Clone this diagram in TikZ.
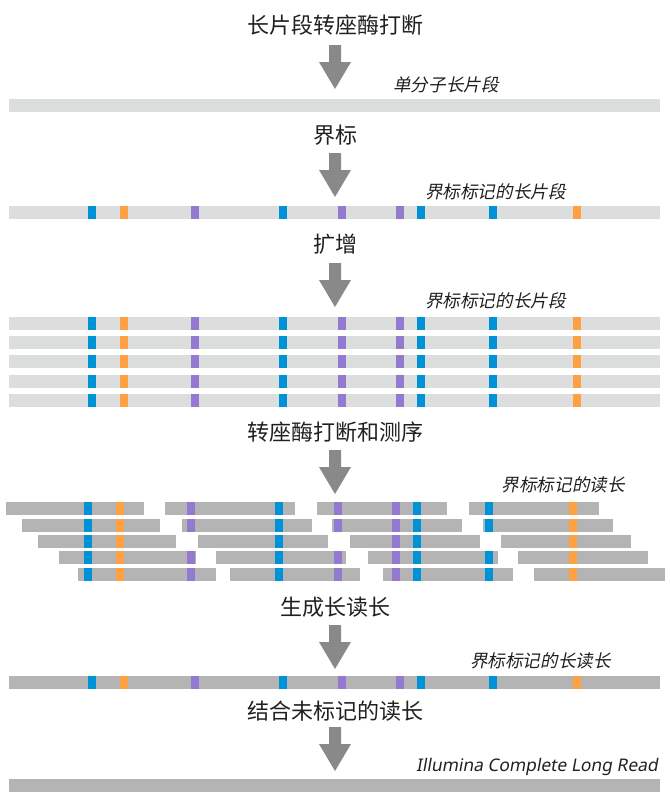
\documentclass[tikz,border=0pt]{standalone}
\usepackage{fontspec}
\newfontfamily\cjk{Noto Sans CJK SC}
\newfontfamily\cjkit{Noto Sans CJK SC}[FakeSlant=0.2]
\newfontfamily\latit{Noto Sans}[FakeSlant=0.18]
\definecolor{txt}{HTML}{231F20}
\definecolor{arrowgray}{HTML}{898989}
\definecolor{lightbar}{HTML}{DCDDDD}
\definecolor{darkbar}{HTML}{B4B4B4}
\definecolor{mblue}{HTML}{0092D6}
\definecolor{morange}{HTML}{FFA043}
\definecolor{mpurple}{HTML}{9479D0}
\tikzset{
  title/.style={inner sep=0pt, text=txt, font=\cjk\fontsize{22}{24}\selectfont, anchor=center},
  lab/.style={inner sep=0pt, text=txt, font=\cjkit\fontsize{17.6}{20}\selectfont, anchor=east},
  downarrow/.style={fill=arrowgray},
}
% markers along a bar: #1 = top y, #2 = x shift
\newcommand\barmarkers[2]{%
  \foreach \mx/\mc in {88/mblue,120/morange,191/mpurple,279/mblue,338/mpurple,396/mpurple,417/mblue,489/mblue,573/morange}{
    \fill[\mc] (\mx+#2,#1) rectangle ++(8,13);
  }%
}
\newcommand\fullbar[2]{% #1 top y, #2 colour
  \fill[#2] (9,#1) rectangle (660,#1+13);
}
\newcommand\readseg[3]{% #1 left x, #2 right x, #3 top y
  \begin{scope}
    \clip (#1,#3) rectangle (#2,#3+13);
    \fill[darkbar] (#1,#3) rectangle (#2,#3+13);
    \barmarkers{#3}{-4}
  \end{scope}
}
\newcommand\downarr[1]{% #1 top y of shaft
  \fill[downarrow] (329,#1) -- (341,#1) -- (341,#1+17) -- (351,#1+17) -- (335,#1+44) -- (319,#1+17) -- (329,#1+17) -- cycle;
}
\begin{document}
\begin{tikzpicture}[x=1pt,y=-1pt]
\useasboundingbox (0,0) rectangle (670,793);

% step 1
\node[title] (t1) at (335,25) {长片段转座酶打断};
\downarr{45}
\node[lab] (l1) at (499,84.5) {单分子长片段};
\fullbar{98.5}{lightbar}

% step 2
\node[title] (t2) at (335,135) {界标};
\downarr{153}
\node[lab] (l2) at (566,191.5) {界标标记的长片段};
\fullbar{206}{lightbar}
\barmarkers{206}{0}

% step 3
\node[title] (t3) at (335,244) {扩增};
\downarr{263}
\node[lab] (l3) at (566,300.5) {界标标记的长片段};
\foreach \yy in {317,336,355,375,394}{
  \fullbar{\yy}{lightbar}
  \barmarkers{\yy}{0}
}

% step 4
\node[title] (t4) at (335,432) {转座酶打断和测序};
\downarr{450}
\node[lab] (l4) at (625,484.5) {界标标记的读长};
% row 1
\readseg{6}{144}{502}
\readseg{165}{295}{502}
\readseg{317}{447}{502}
\readseg{469}{599}{502}
% row 2
\readseg{22}{160}{519}
\readseg{182}{312}{519}
\readseg{332}{462}{519}
\readseg{483}{613}{519}
% row 3
\readseg{38}{176}{535}
\readseg{198}{328}{535}
\readseg{350}{480}{535}
\readseg{501}{631}{535}
% row 4
\readseg{59}{196}{551}
\readseg{216}{346}{551}
\readseg{368}{498}{551}
\readseg{518}{648}{551}
% row 5
\readseg{78}{216}{568}
\readseg{230}{360}{568}
\readseg{383}{513}{568}
\readseg{534}{665}{568}

% step 5
\node[title] (t5) at (335,607) {生成长读长};
\downarr{625}
\node[lab] (l5) at (611,660.5) {界标标记的长读长};
\fullbar{676}{darkbar}
\barmarkers{676}{0}

% step 6
\node[title] (t6) at (335,711.5) {结合未标记的读长};
\downarr{727}
\node[lab, font=\latit\fontsize{17.4}{20}\selectfont] (l6) at (658,766.5) {Illumina Complete Long Read};
\fullbar{779}{darkbar}
\end{tikzpicture}
\end{document}
